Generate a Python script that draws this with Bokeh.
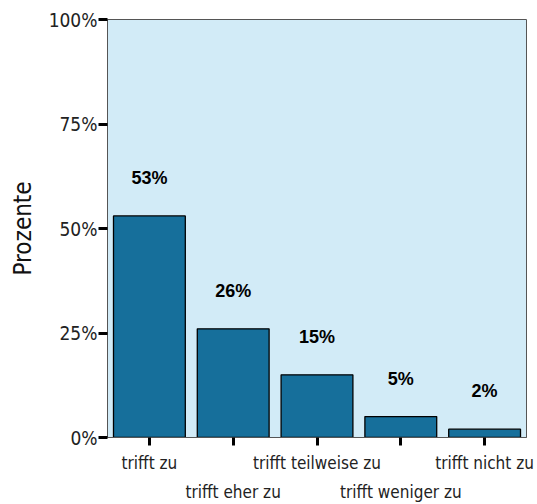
from bokeh.plotting import figure
from bokeh.models import FixedTicker, PrintfTickFormatter, ColumnDataSource, Range1d
from bokeh.core.properties import value
from bokeh.embed import file_html
from bokeh.resources import INLINE

# Antwortkategorien und Anteile in Prozent
categories = ["trifft zu", "trifft eher zu", "trifft teilweise zu",
              "trifft weniger zu", "trifft nicht zu"]
percent = [53, 26, 15, 5, 2]
y_ticks = [0, 25, 50, 75, 100]

NARROW = "DejaVu Sans Condensed, Liberation Sans Narrow, sans-serif"
BAR_COLOR = "#166f9b"
BG_COLOR = "#d2ebf7"

positions = list(range(1, len(categories) + 1))
source = ColumnDataSource(data=dict(
    x=positions,
    top=percent,
    label=[f"{v}%" for v in percent],
))

p = figure(width=537, height=504, output_backend="svg", toolbar_location=None,
           x_range=Range1d(0.5, len(categories) + 0.5), y_range=Range1d(0, 100),
           min_border_left=107, min_border_right=11, min_border_top=19,
           min_border_bottom=67)

p.background_fill_color = BG_COLOR
p.border_fill_color = "white"
p.outline_line_color = "#555555"
p.outline_line_width = 1
p.xgrid.visible = False
p.ygrid.visible = False

p.vbar(x="x", top="top", width=0.857, source=source,
       fill_color=BAR_COLOR, line_color="black", line_width=1.3)

p.text(x="x", y="top", text="label", source=source,
       y_offset=-38, text_align="center", text_baseline="middle",
       text_font=value("Liberation Sans"), text_font_style="bold",
       text_font_size="18px", text_color="black")

# y-Achse
p.yaxis.ticker = FixedTicker(ticks=y_ticks)
p.yaxis.formatter = PrintfTickFormatter(format="%d%%")
p.yaxis.axis_label = "Prozente"
p.yaxis.axis_label_text_font = NARROW
p.yaxis.axis_label_text_font_style = "normal"
p.yaxis.axis_label_text_font_size = "24px"
p.yaxis.axis_label_text_color = "#111111"
p.yaxis.axis_label_standoff = 9
p.yaxis.major_label_text_font = NARROW
p.yaxis.major_label_text_font_size = "19px"
p.yaxis.major_label_text_color = "#222222"
p.yaxis.major_label_standoff = 1
p.yaxis.minor_tick_line_color = None
p.yaxis.major_tick_in = 0
p.yaxis.major_tick_out = 9
p.yaxis.major_tick_line_width = 3
p.yaxis.major_tick_line_color = "black"
p.yaxis.axis_line_color = "#555555"

# x-Achse mit versetzten Beschriftungen (zweite Zeile für jede zweite Kategorie)
p.xaxis.ticker = FixedTicker(ticks=positions)
p.xaxis.major_label_overrides = {
    pos: (name if i % 2 == 0 else "\n" + name)
    for i, (pos, name) in enumerate(zip(positions, categories))
}
p.xaxis.major_label_text_font = NARROW
p.xaxis.major_label_text_font_size = "17px"
p.xaxis.major_label_text_line_height = 1.47
p.xaxis.major_label_text_color = "#222222"
p.xaxis.major_label_standoff = 7
p.xaxis.minor_tick_line_color = None
p.xaxis.major_tick_in = 0
p.xaxis.major_tick_out = 8
p.xaxis.major_tick_line_width = 3
p.xaxis.major_tick_line_color = "black"
p.xaxis.axis_line_color = "#555555"

open("out.html", "w").write(file_html(p, INLINE))
